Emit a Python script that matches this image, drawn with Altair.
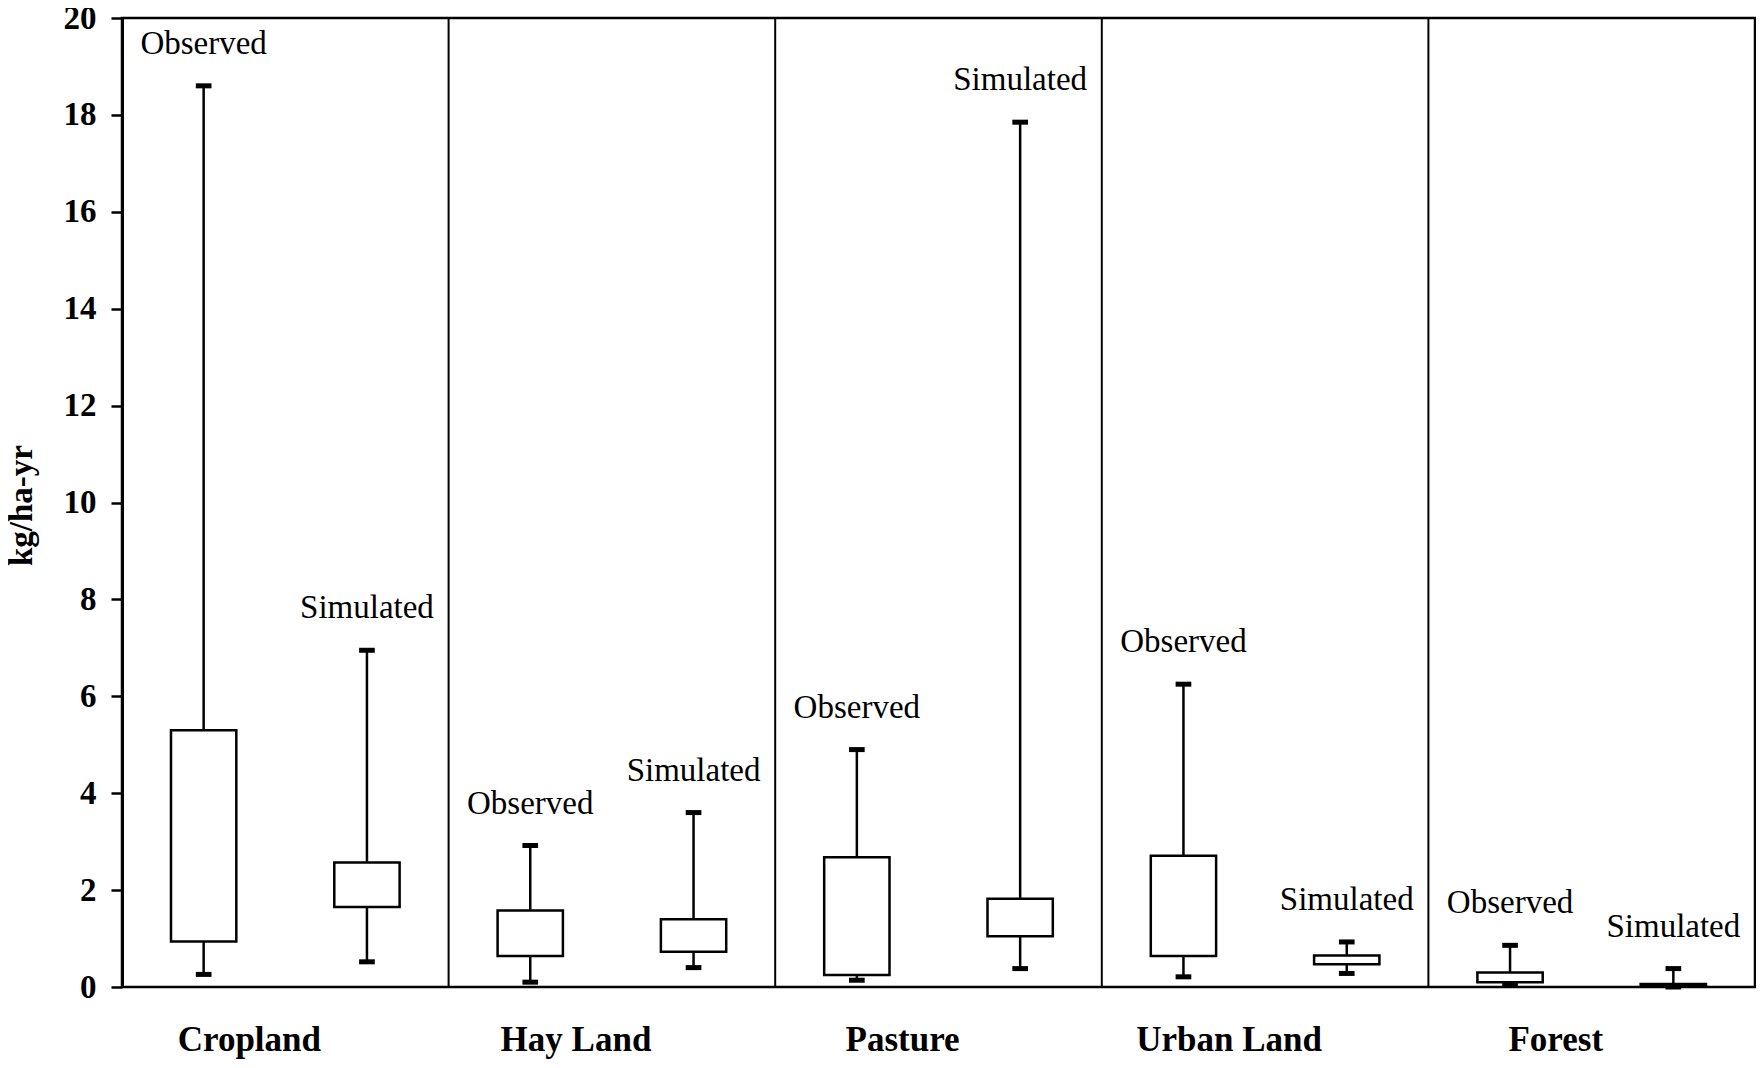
import altair as alt
import pandas as pd

categories = ["Cropland", "Hay Land", "Pasture", "Urban Land", "Forest"]
series = ["Observed", "Simulated"]

obs_low = [0.26, 0.10, 0.14, 0.21, 0.04]
obs_q1 = [0.94, 0.64, 0.25, 0.64, 0.10]
obs_q3 = [5.30, 1.58, 2.68, 2.71, 0.30]
obs_high = [18.6, 2.92, 4.90, 6.25, 0.86]

sim_low = [0.52, 0.40, 0.38, 0.28, 0.0]
sim_q1 = [1.65, 0.73, 1.05, 0.47, 0.01]
sim_q3 = [2.57, 1.40, 1.82, 0.65, 0.06]
sim_high = [6.95, 3.60, 17.85, 0.93, 0.38]

y_ticks = list(range(0, 21, 2))

rows = []
for i, cat in enumerate(categories):
    rows.append(dict(cat=cat, series="Observed", idx=i, off=0.25,
                     low=obs_low[i], q1=obs_q1[i], q3=obs_q3[i], high=obs_high[i]))
    rows.append(dict(cat=cat, series="Simulated", idx=i, off=0.75,
                     low=sim_low[i], q1=sim_q1[i], q3=sim_q3[i], high=sim_high[i]))
df = pd.DataFrame(rows)

cat_df = pd.DataFrame({"cat": categories, "idx": list(range(len(categories)))})
div_df = pd.DataFrame({"idx": list(range(1, len(categories)))})

SERIF = "Liberation Serif"
W, H = 1633, 969

xscale = alt.Scale(domain=[0, 5], nice=False, zero=False)
yscale = alt.Scale(domain=[0, 20], nice=False)

yaxis = alt.Axis(
    values=y_ticks, title="kg/ha-yr", titleFont=SERIF, titleFontSize=33,
    titleFontWeight="bold", titleColor="black", titleX=-84, titleY=487,
    titleBaseline="bottom", titleAngle=270,
    labelFont=SERIF, labelFontSize=33, labelFontWeight="bold", labelColor="black",
    labelPadding=15, tickSize=11, tickWidth=2.5, tickColor="black",
    domainColor="black", domainWidth=3, grid=False,
)


def X(f):
    return alt.X(f, type="quantitative", scale=xscale, axis=None)


def Y(f):
    return alt.Y(f, type="quantitative", scale=yscale, axis=yaxis)


base = alt.Chart(df).transform_calculate(
    pos="datum.idx + datum.off",
    bl="datum.idx + datum.off - 0.1",
    br="datum.idx + datum.off + 0.1",
    cl="datum.idx + datum.off - 0.024",
    cr="datum.idx + datum.off + 0.024",
)

whisker = base.mark_rule(color="black", strokeWidth=2.5).encode(
    x=X("pos"), y=Y("low"), y2="high:Q",
)

caps_hi = base.mark_rule(color="black", strokeWidth=5).encode(
    x=X("cl"), x2="cr:Q", y=Y("high"),
)
caps_lo = base.mark_rule(color="black", strokeWidth=5).encode(
    x=X("cl"), x2="cr:Q", y=Y("low"),
)

box = base.mark_rect(fill="white", stroke="black", strokeWidth=2.5).encode(
    x=X("bl"), x2="br:Q", y=Y("q1"), y2="q3:Q",
)

labels = base.mark_text(font=SERIF, fontSize=33, color="black",
                        baseline="alphabetic", align="center", dy=-32).encode(
    x=X("pos"), y=Y("high"), text="series:N",
)

dividers = alt.Chart(div_df).mark_rule(color="black", strokeWidth=2).encode(
    x=X("idx"), y=alt.value(0), y2=alt.value(H),
)

cat_labels = alt.Chart(cat_df).transform_calculate(
    cx="datum.idx + 0.39"
).mark_text(font=SERIF, fontSize=35, fontWeight="bold", color="black",
            baseline="alphabetic", align="center").encode(
    x=X("cx"), y=alt.value(1033), text="cat:N",
)

chart = alt.layer(dividers, whisker, caps_lo, caps_hi, box, labels, cat_labels).properties(
    width=W, height=H,
    autosize=alt.AutoSizeParams(type="none"),
    padding={"left": 114, "top": 10, "right": 1, "bottom": 72},
).configure_view(stroke="black", strokeWidth=2.5)

chart.save("out.html", embed_options={"renderer": "svg", "actions": False})
